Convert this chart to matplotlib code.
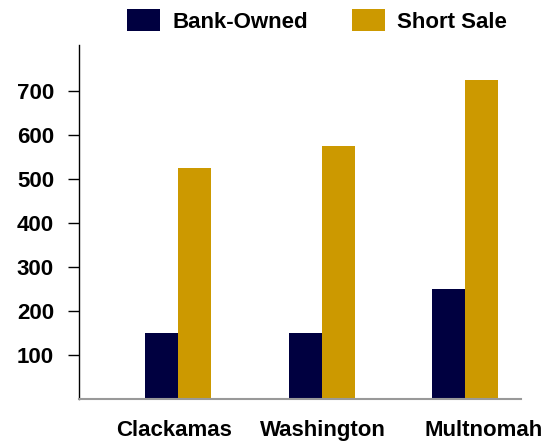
import numpy as np
import matplotlib.pyplot as plt

counties = ['Clackamas', 'Washington', 'Multnomah']
bank_owned = [150, 150, 250]
short_sale = [525, 575, 725]
yticks = [100, 200, 300, 400, 500, 600, 700]

plt.rcParams['font.family'] = ['Liberation Sans', 'DejaVu Sans']
plt.rcParams['font.weight'] = 'bold'

fig = plt.figure(figsize=(5.45, 4.44), dpi=100)
ax = fig.add_axes([0.145, 0.101, 0.811, 0.798])

x = np.arange(len(counties))
w = 0.23
ax.bar(x - w/2, bank_owned, w, color='#000040', label='Bank-Owned')
ax.bar(x + w/2, short_sale, w, color='#cc9900', label='Short Sale')

ax.set_xlim(-0.69, 2.39)
ax.set_ylim(0, 805)
ax.set_yticks(yticks)
ax.set_xticks(x + np.array([-0.03, 0.01, 0.13]))
ax.set_xticklabels(counties, fontsize=16, fontweight='bold')
ax.tick_params(axis='x', length=0, pad=15)
ax.tick_params(axis='y', length=8, width=1, direction='out', pad=10, labelsize=16)
for lab in ax.get_yticklabels():
    lab.set_fontweight('bold')

ax.spines['top'].set_visible(False)
ax.spines['right'].set_visible(False)
ax.spines['bottom'].set_color('#999999')
ax.spines['bottom'].set_linewidth(1.5)
ax.spines['left'].set_linewidth(1)

fig.legend(loc='center', bbox_to_anchor=(0.582, 0.953), ncol=2, frameon=False,
           handlelength=1.49, handleheight=1.15, handletextpad=0.54,
           columnspacing=2.0, prop={'weight': 'bold', 'size': 16})

fig.savefig('out.png', dpi=100)
